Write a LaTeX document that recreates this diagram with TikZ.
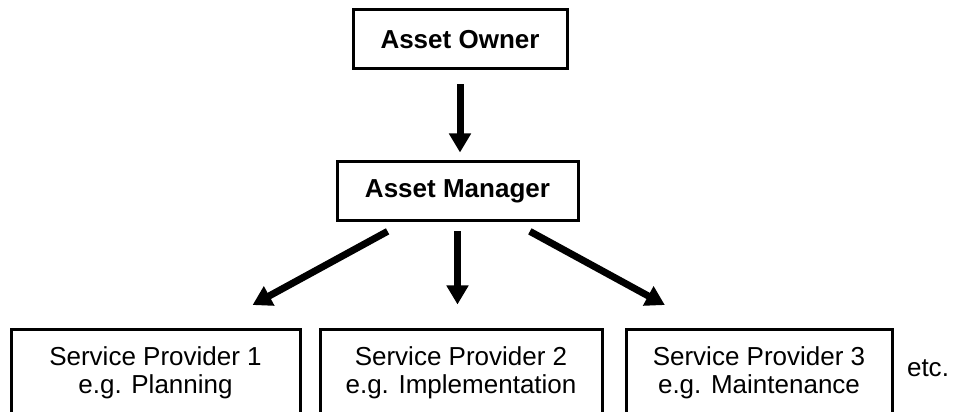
\documentclass[tikz,border=0pt]{standalone}
\usepackage{fontspec}
\setmainfont{Liberation Sans}
\usetikzlibrary{arrows.meta,calc}

\begin{document}
\begin{tikzpicture}[
    topbox/.style={draw, line width=0.06cm, minimum height=1.18cm, font=\bfseries\fontsize{14.8}{16}\selectfont},
    provbox/.style={draw, line width=0.06cm, minimum height=1.7cm, align=center, font=\fontsize{14.8}{16}\selectfont},
    arrow/.style={line width=0.14cm, -{Triangle[length=0.38cm,width=0.42cm]}}
]
        \useasboundingbox (0,0) rectangle (19.06,8.24);

        % Owner and manager
        \node[topbox, minimum width=4.28cm] (owner) at (9.2,7.45) {Asset Owner};
        \node[topbox, minimum width=4.82cm] (manager) at (9.15,4.41) {Asset Manager};

        % Service providers
        \node[provbox, minimum width=5.78cm] (sp1) at (3.11,0.79) {Service Provider 1\\e.g. Planning};
        \node[provbox, minimum width=5.64cm] (sp2) at (9.22,0.79) {Service Provider 2\\e.g. Implementation};
        \node[provbox, minimum width=5.32cm] (sp3) at (15.18,0.79) {Service Provider 3\\e.g. Maintenance};
        \node[font=\fontsize{14.8}{16}\selectfont] (etc) at (18.56,0.88) {etc.};

        % Arrows
        \draw[arrow, shorten <=0.28cm, shorten >=0.16cm] (owner.south) -- (owner.south |- manager.north);
        \draw[arrow, shorten <=0.18cm, shorten >=0.48cm] (manager.south) -- (manager.south |- sp2.north);
        \draw[arrow, shorten <=0.37cm, shorten >=0.98cm] ($(manager.south)!0.44!(manager.south west)$) -- ($(sp1.north)!0.37!(sp1.north east)$);
        \draw[arrow, shorten <=0.37cm, shorten >=0.98cm] ($(manager.south)!0.46!(manager.south east)$) -- ($(sp3.north)!0.38!(sp3.north west)$);
    \end{tikzpicture}
\end{document}
